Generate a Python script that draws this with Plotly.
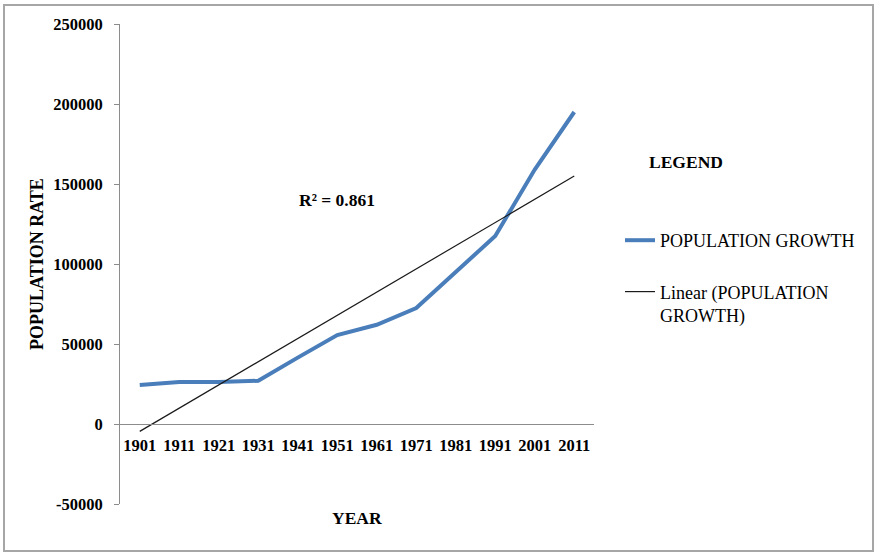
import numpy as np
import plotly.graph_objects as go

# Census years and population counts
years = ["1901", "1911", "1921", "1931", "1941", "1951",
         "1961", "1971", "1981", "1991", "2001", "2011"]
population = [24400, 26300, 26300, 27000, 41500, 55600,
              62000, 72500, 95000, 117500, 159000, 195000]

# Value axis ticks
y_ticks = [-50000, 0, 50000, 100000, 150000, 200000, 250000]
y_tick_text = ["-50000", "0", "50000", "100000", "150000", "200000", "250000"]

FONT = "Liberation Serif"
AXIS_GREY = "#8C8C8C"

# Least-squares linear trend over the category index
idx = np.arange(len(years))
slope, intercept = np.polyfit(idx, population, 1)
trend = slope * idx + intercept
pop = np.array(population, dtype=float)
r2 = 1 - np.sum((pop - trend) ** 2) / np.sum((pop - pop.mean()) ** 2)

W, H = 878, 556
L, R, T, B = 120, 284, 24, 52
PW, PH = W - L - R, H - T - B


def px(x):
    return (x - L) / PW


def py(y):
    return (H - B - y) / PH


fig = go.Figure()
fig.add_trace(go.Scatter(
    x=years, y=population, mode="lines", name="POPULATION GROWTH",
    line=dict(color="#4A7EBB", width=4), legendgroup="a",
))
fig.add_trace(go.Scatter(
    x=years, y=trend, mode="lines", name="Linear (POPULATION<br>GROWTH)",
    line=dict(color="#1A1A1A", width=1.2), legendgroup="b",
))

fig.update_layout(
    width=W, height=H,
    margin=dict(l=L, r=R, t=T, b=B, autoexpand=False),
    paper_bgcolor="white", plot_bgcolor="white",
    font=dict(family=FONT, color="black", size=16),
    xaxis=dict(
        type="category", categoryorder="array", categoryarray=years,
        range=[-0.5, len(years) - 0.5],
        anchor="free", position=(0 - y_ticks[0]) / (y_ticks[-1] - y_ticks[0]),
        showline=True, linecolor=AXIS_GREY, linewidth=1,
        ticks="", showgrid=False, zeroline=False,
        tickfont=dict(family=FONT, size=16.5, color="black", weight="bold"),
        ticklabelstandoff=6,
    ),
    yaxis=dict(
        range=[y_ticks[0], y_ticks[-1]], domain=[0, 1],
        tickvals=y_ticks, ticktext=y_tick_text,
        showline=True, linecolor=AXIS_GREY, linewidth=1,
        ticks="outside", ticklen=5, tickcolor=AXIS_GREY,
        showgrid=False, zeroline=False,
        tickfont=dict(family=FONT, size=16.5, color="black", weight="bold"),
        ticklabelstandoff=8,
    ),
    showlegend=True,
    legend=dict(
        x=px(620), y=py(222), xanchor="left", yanchor="top",
        bgcolor="rgba(0,0,0,0)", borderwidth=0,
        font=dict(family=FONT, size=18, color="black"),
        traceorder="grouped", tracegroupgap=25, valign="top",
    ),
    annotations=[
        dict(text="POPULATION RATE", x=px(37), y=0.5, xref="paper", yref="paper",
             textangle=-90, showarrow=False, xanchor="center", yanchor="middle",
             font=dict(family=FONT, size=18, weight="bold")),
        dict(text="YEAR", x=0.5, y=py(518), xref="paper", yref="paper",
             showarrow=False, xanchor="center", yanchor="middle",
             font=dict(family=FONT, size=17.5, weight="bold")),
        dict(text=f"R² = {r2:.3f}", x=px(337), y=py(200), xref="paper", yref="paper",
             showarrow=False, xanchor="center", yanchor="middle",
             font=dict(family=FONT, size=17.5, weight="bold")),
        dict(text="LEGEND", x=px(686), y=py(162), xref="paper", yref="paper",
             showarrow=False, xanchor="center", yanchor="middle",
             font=dict(family=FONT, size=17.5, weight="bold")),
    ],
    shapes=[
        dict(type="rect", xref="paper", yref="paper",
             x0=px(4), x1=px(873), y0=py(551), y1=py(5),
             line=dict(color="#A6A6A6", width=2), fillcolor="rgba(0,0,0,0)",
             layer="below"),
    ],
)

fig.write_html("out.html")
